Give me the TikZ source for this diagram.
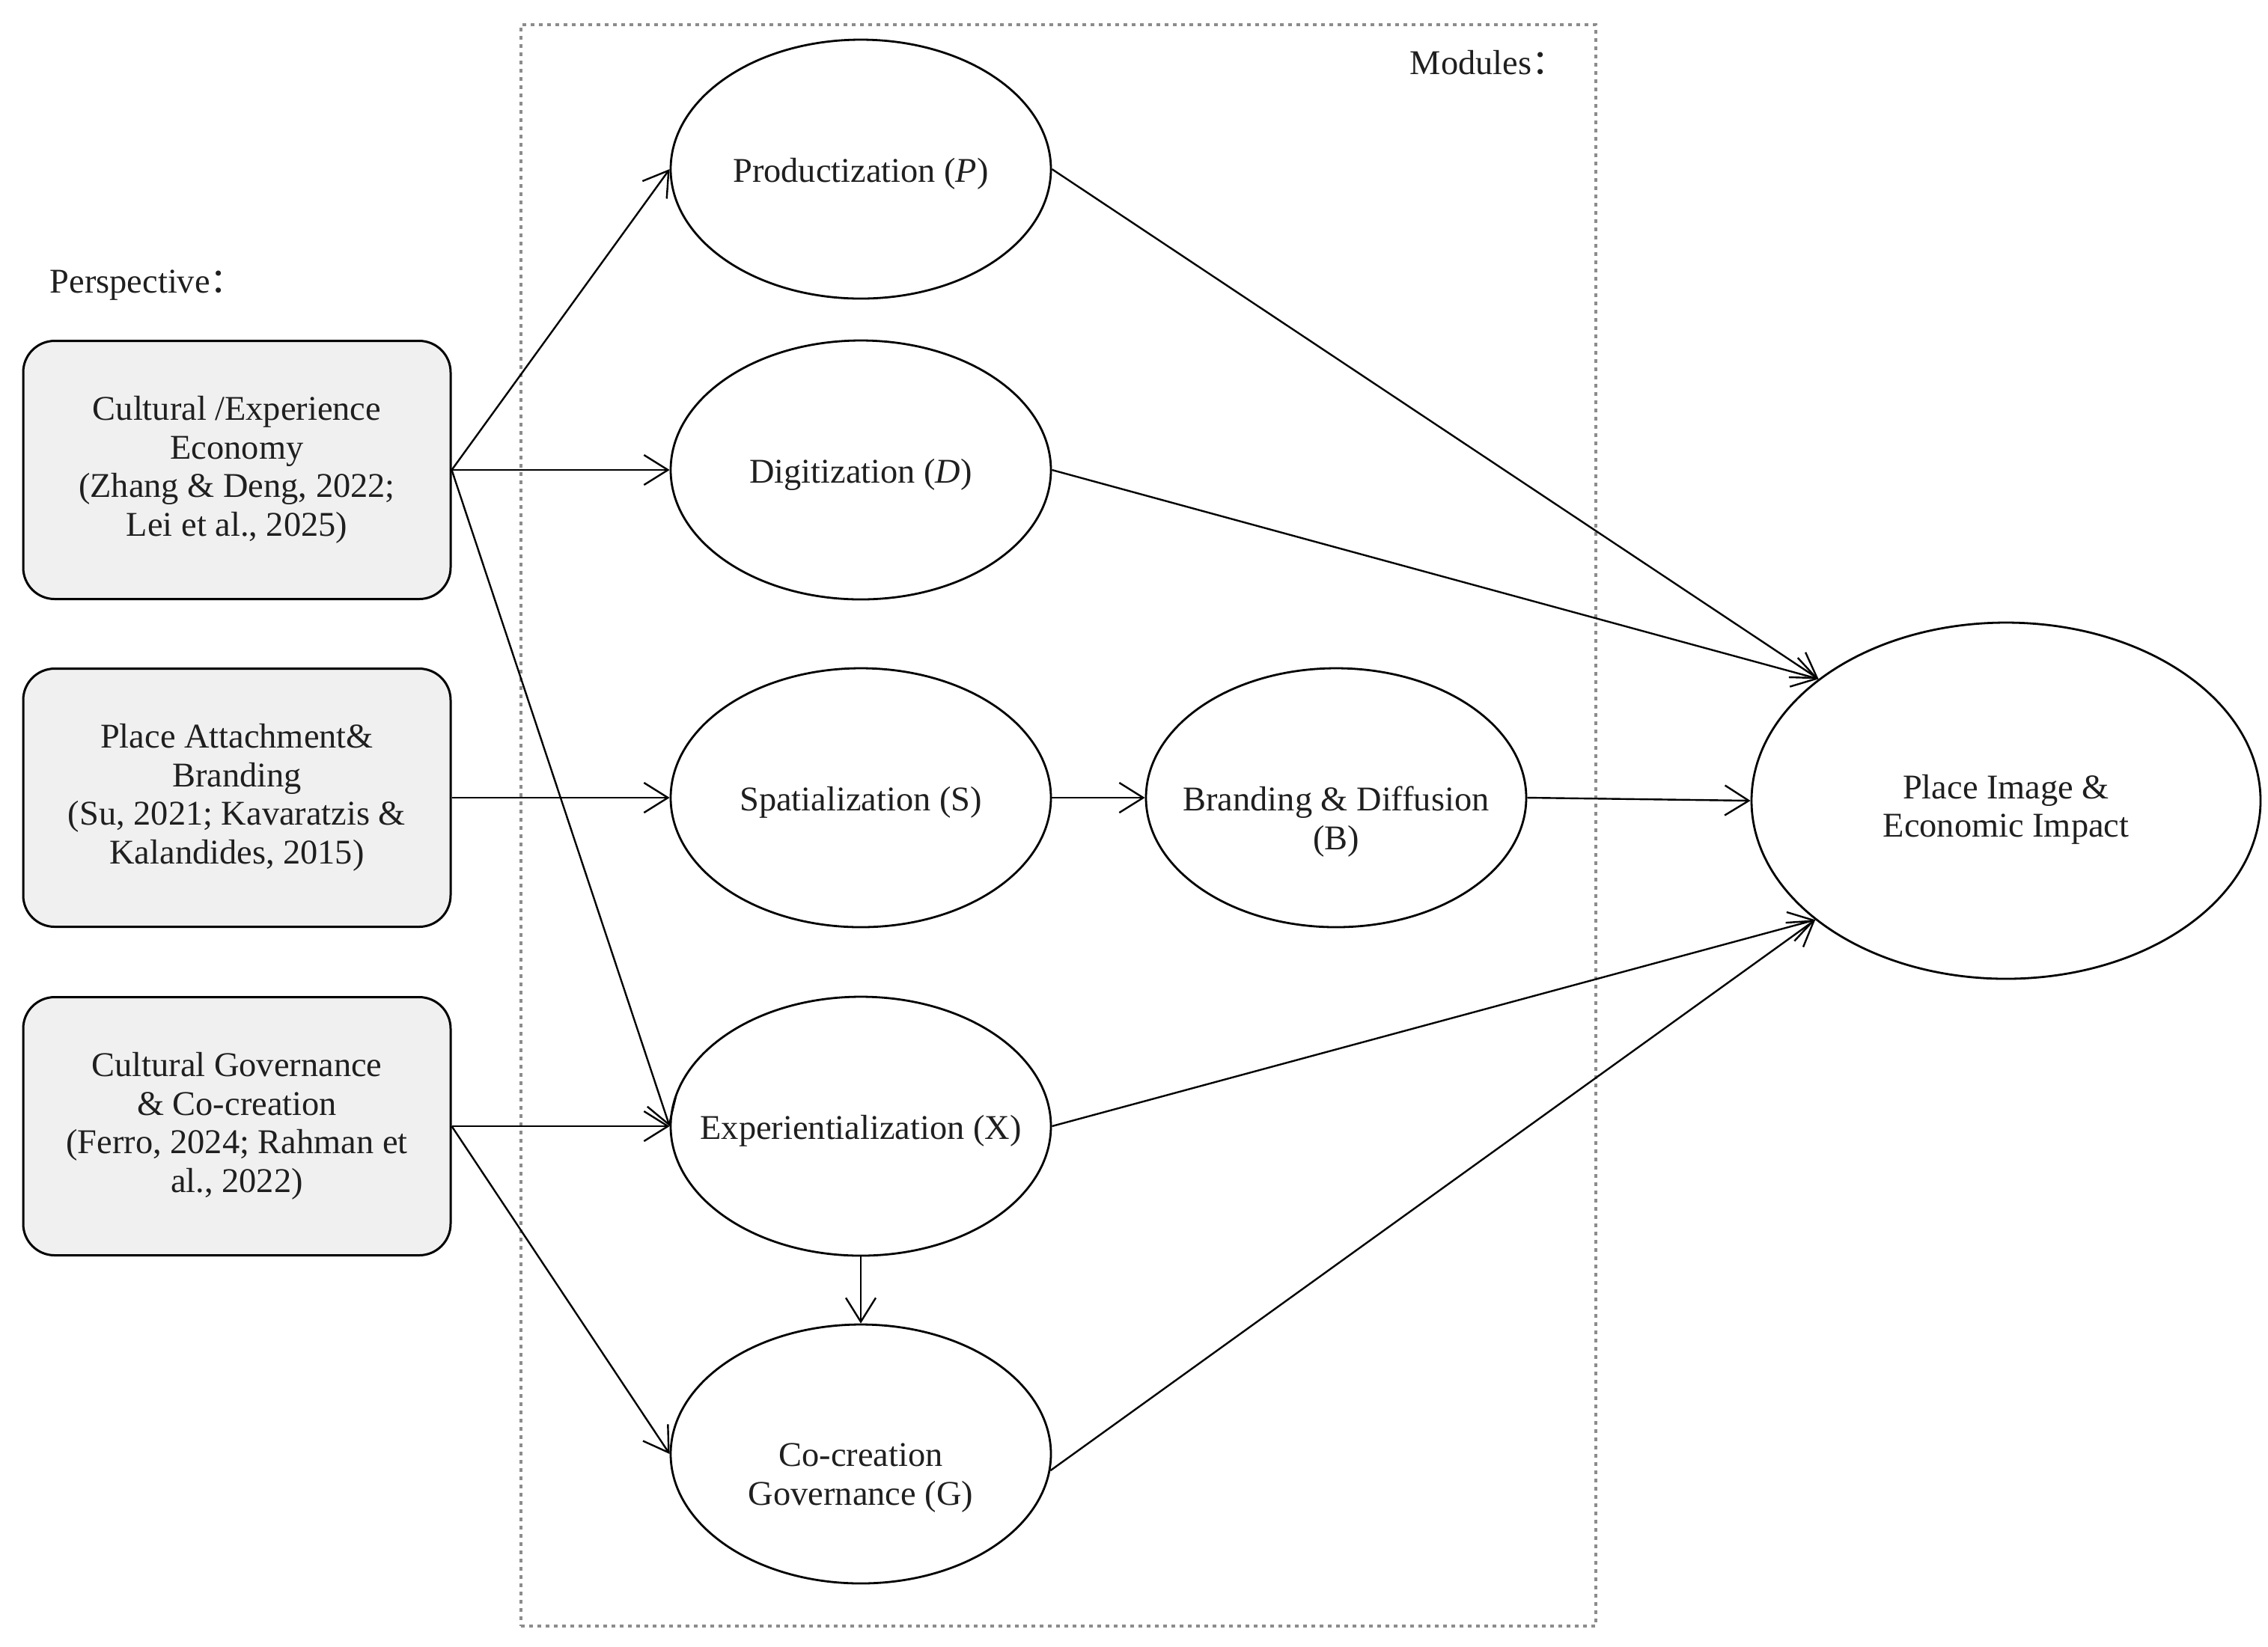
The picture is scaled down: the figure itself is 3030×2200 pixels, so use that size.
\documentclass[tikz,border=0pt]{standalone}
\usepackage{fontspec}
\setmainfont{Liberation Serif}
\newfontfamily\cjk{Noto Sans CJK SC}
\usetikzlibrary{shapes.geometric,arrows.meta}
\definecolor{boxgray}{HTML}{F0F0F0}
\definecolor{framegray}{HTML}{8C8C8C}
\begin{document}
\begin{tikzpicture}[x=0.25pt,y=-0.25pt,
  every node/.style={font=\fontsize{11.6}{12.9}\selectfont, align=center, inner sep=0pt, text=black!88},
  persp/.style={draw, line width=0.75pt, fill=boxgray, rounded corners=10.5pt,
                minimum width=142.75pt, minimum height=86.25pt},
  module/.style={ellipse, draw, line width=0.7pt, minimum width=127pt, minimum height=86.5pt},
  bigmod/.style={ellipse, draw, line width=0.7pt, minimum width=170pt, minimum height=119pt},
  frame/.style={draw=framegray, line width=1pt, dash pattern=on 1.3pt off 1.45pt,
                minimum width=359pt, minimum height=535pt},
  conn/.style={-{Straight Barb[length=8pt,width=10pt]}, line width=0.6pt}
]
\useasboundingbox (0,0) rectangle (3030,2200);

\node[frame] (frame) at (1414,1103) {};
\node[anchor=west] (mods) at (1883,84) {Modules{\cjk ：}};
\node[anchor=west] (persp) at (66,381) {Perspective{\cjk ：}};

\node[persp] (c1) at (316.5,628) {Cultural /Experience\\Economy\\(Zhang \& Deng, 2022;\\Lei et al., 2025)};
\node[persp] (c2) at (316.5,1066) {Place Attachment\&\\Branding\\(Su, 2021; Kavaratzis \&\\Kalandides, 2015)};
\node[persp] (c3) at (316.5,1505) {Cultural Governance\\\& Co-creation\\(Ferro, 2024; Rahman et\\al., 2022)};

\node[module, label={[yshift=-1.5pt]center:Productization (\textit{P})}] (P) at (1150,226) {};
\node[module, label={[yshift=-1.5pt]center:Digitization (\textit{D})}] (D) at (1150,628) {};
\node[module, label={[yshift=-1.5pt]center:Spatialization (S)}] (S) at (1150,1066) {};
\node[module, label={[yshift=-1.5pt]center:Experientialization (X)}] (X) at (1150,1505) {};
\node[module, label={[yshift=-8pt]center:Co-creation\\Governance (G)}] (G) at (1150,1943) {};
\node[module, label={[yshift=-8pt]center:Branding \& Diffusion\\(B)}] (B) at (1785,1066) {};
\node[bigmod, label={[yshift=-3pt]center:Place Image \&\\Economic Impact}] (Place) at (2680,1070) {};

\draw[conn] (c1.east) -- (P.west);
\draw[conn] (c1.east) -- (D.west);
\draw[conn] (c1.east) -- (X.west);
\draw[conn] (c2.east) -- (S.west);
\draw[conn] (c3.east) -- (X.west);
\draw[conn] (c3.east) -- (G.west);
\draw[conn] (S.east) -- (B.west);
\draw[conn] (B.east) -- (Place.west);
\draw[conn] (P.east) -- (Place.147.5);
\draw[conn] (D.east) -- (Place.147.5);
\draw[conn] (X.east) -- (Place.212.5);
\draw[conn] (G.-5) -- (Place.212.5);
\draw[conn] (X.south) -- (G.north);
\end{tikzpicture}
\end{document}
